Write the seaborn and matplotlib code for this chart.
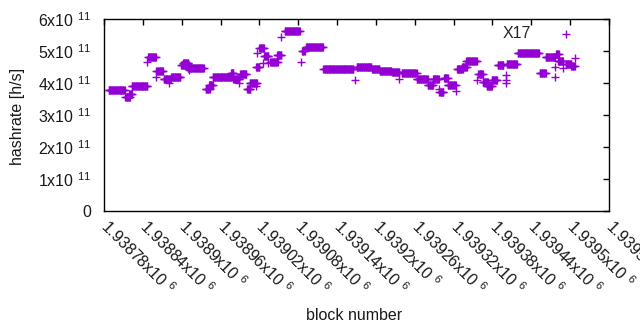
#!/usr/bin/env python3
"""Hashrate per block (X17) - gnuplot-like scatter of '+' marks."""

import numpy as np
import pandas as pd
import matplotlib
matplotlib.use("Agg")
import matplotlib.pyplot as plt
import seaborn as sns

sns.set_style("white")
plt.rcParams['font.family'] = ['Liberation Sans', 'DejaVu Sans']
plt.rcParams['mathtext.fontset'] = 'custom'
plt.rcParams['mathtext.rm'] = 'Liberation Sans'
plt.rcParams['mathtext.it'] = 'Liberation Sans'

# --- data: runs of (almost) constant hashrate ---
seg_start = [1938787, 1938813, 1938819, 1938823, 1938846, 1938848, 1938860, 1938861,
             1938872, 1938880, 1938884, 1938899, 1938902, 1938911, 1938909, 1938937,
             1938942, 1938948, 1938976, 1938980, 1938988, 1938990, 1939001, 1939005,
             1939014, 1939014, 1939016, 1939017, 1939020, 1939025, 1939027, 1939034,
             1939037, 1939047, 1939054, 1939059, 1939084, 1939086, 1939092, 1939119,
             1939167, 1939170, 1939194, 1939206, 1939219, 1939225, 1939236, 1939240,
             1939263, 1939280, 1939288, 1939297, 1939298, 1939305, 1939311, 1939323,
             1939325, 1939333, 1939339, 1939356, 1939358, 1939365, 1939371, 1939379,
             1939388, 1939401, 1939401, 1939401, 1939402, 1939419, 1939453, 1939462,
             1939476, 1939476, 1939478, 1939481, 1939489, 1939493, 1939502, 1939507]
seg_end = [1938812, 1938820, 1938823, 1938847, 1938846, 1938860, 1938860, 1938871,
           1938883, 1938880, 1938898, 1938911, 1938910, 1938911, 1938934, 1938943,
           1938948, 1938977, 1938980, 1938989, 1938988, 1939000, 1939006, 1939016,
           1939014, 1939014, 1939020, 1939017, 1939027, 1939025, 1939034, 1939034,
           1939048, 1939054, 1939054, 1939082, 1939084, 1939090, 1939118, 1939165,
           1939167, 1939193, 1939205, 1939218, 1939224, 1939236, 1939236, 1939263,
           1939280, 1939288, 1939297, 1939297, 1939304, 1939311, 1939323, 1939323,
           1939334, 1939340, 1939356, 1939356, 1939365, 1939373, 1939379, 1939387,
           1939397, 1939401, 1939401, 1939401, 1939418, 1939452, 1939462, 1939476,
           1939476, 1939476, 1939482, 1939489, 1939489, 1939502, 1939507, 1939507]
seg_rate = [3.78, 3.56, 3.66, 3.92, 4.65, 4.80, 4.20, 4.39,
            4.11, 4.00, 4.20, 4.56, 4.62, 4.40, 4.48, 3.82,
            3.95, 4.20, 4.30, 4.14, 4.00, 4.27, 3.80, 4.00,
            3.90, 4.50, 4.50, 4.94, 5.08, 4.63, 4.84, 4.62,
            4.67, 4.89, 5.45, 5.62, 4.65, 5.00, 5.12, 4.43,
            4.10, 4.49, 4.43, 4.39, 4.36, 4.33, 4.13, 4.31,
            4.12, 3.95, 4.12, 3.81, 3.72, 4.15, 3.95, 3.75,
            4.45, 4.50, 4.70, 4.10, 4.27, 4.04, 3.90, 4.10,
            4.55, 4.25, 4.08, 4.00, 4.60, 4.93, 4.30, 4.80,
            4.50, 4.20, 4.90, 4.70, 4.47, 4.60, 4.52, 4.79]  # x 1e11 h/s

x_ticks = [1938780 + 60 * i for i in range(14)]
x_tick_labels = ["1.93878", "1.93884", "1.9389", "1.93896", "1.93902", "1.93908",
                 "1.93914", "1.9392", "1.93926", "1.93932", "1.93938", "1.93944",
                 "1.9395", "1.93956"]
y_ticks = [0, 1, 2, 3, 4, 5, 6]

FS = 11.5

# one point per block inside every run
blocks = np.concatenate([np.arange(s, e + 1) for s, e in zip(seg_start, seg_end)])
rates = np.concatenate([np.full(e - s + 1, r) for s, e, r in zip(seg_start, seg_end, seg_rate)])
df = pd.DataFrame({"block": blocks, "hashrate": rates * 1e11})

fig = plt.figure(figsize=(6.4, 3.3), dpi=100)
ax = fig.add_axes([104 / 640, 1 - 211 / 330, 505 / 640, 192 / 330])

sns.scatterplot(data=df, x="block", y="hashrate", marker="+", s=28, linewidth=1.0,
                color="#9400d3", label="X17", ax=ax)

ax.set_xlim(1938780, 1939560)
ax.set_ylim(0, 6e11)
ax.set_xticks(x_ticks)
ax.set_xticklabels([f"{t}x10 $^{{6}}$" for t in x_tick_labels], rotation=-45,
                   ha="left", va="center", rotation_mode="anchor", fontsize=FS)
ax.set_yticks([v * 1e11 for v in y_ticks])
ax.set_yticklabels(["0" if v == 0 else f"{v}x10 $^{{11}}$" for v in y_ticks], fontsize=FS)
ax.tick_params(direction="in", length=4, width=1, top=True, right=True, colors="black",
               labelcolor="#1a1a1a")
ax.tick_params(axis="y", pad=9)
ax.tick_params(axis="x", pad=9)
for sp in ax.spines.values():
    sp.set_color("black")
    sp.set_linewidth(1)

ax.set_xlabel("block number", fontsize=FS, color="#1a1a1a", va="center")
ax.xaxis.set_label_coords(0.495, -0.542)
ax.set_ylabel("hashrate [h/s]", fontsize=FS, color="#1a1a1a", va="center")
ax.yaxis.set_label_coords(-0.172, 0.49)

ax.legend(loc="upper right", bbox_to_anchor=(0.962, 0.965), frameon=False, markerfirst=False,
          borderaxespad=0, borderpad=0, handlelength=3, handletextpad=0.7, fontsize=FS)

fig.savefig("out.png", dpi=100)
